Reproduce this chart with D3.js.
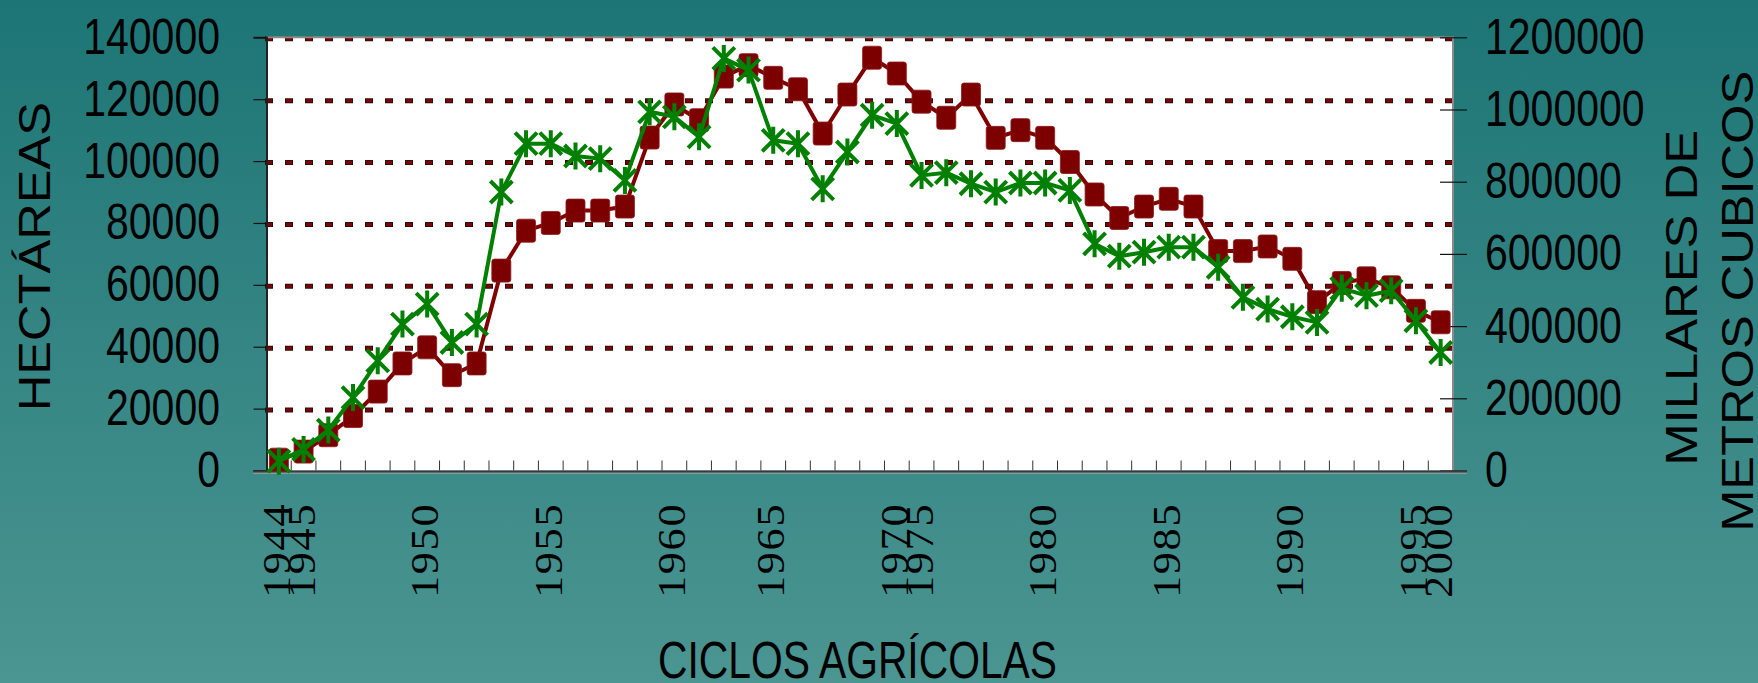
<!DOCTYPE html>
<html>
<head>
<meta charset="utf-8">
<script src="https://cdn.jsdelivr.net/npm/d3@7"></script>
<style>
  html, body { margin: 0; padding: 0; }
  body { width: 1758px; height: 683px; overflow: hidden; }
</style>
</head>
<body>
<svg id="chart" width="1758" height="683"></svg>
<script>
// Category labels (only some cycles carry a year label)
const cycleLabels = [
  "1944", "1945", "", "", "", "", "1950", "", "", "", "",
  "1955", "", "", "", "", "1960", "", "", "", "1965",
  "", "", "", "", "1970", "1975", "", "", "", "",
  "1980", "", "", "", "", "1985", "", "", "", "",
  "1990", "", "", "", "", "1995", "2000"
];

// Hectáreas (left axis, red squares)
const hectareas = [
  3500, 6100, 11400, 17600, 25500, 34600, 39800, 30800, 34600, 64600,
  77500, 80000, 84000, 84000, 85300, 107600, 118300, 113200, 127300, 131000,
  126900, 123200, 108900, 121500, 133400, 128300, 119200, 114000, 121500, 107500,
  110000, 107500, 99700, 89200, 81600, 85300, 87800, 85300, 70900, 70900,
  72400, 68400, 54400, 60600, 62100, 59200, 51600, 47900
];

// Millares de metros cubicos (right axis, green stars)
const millares = [
  25900, 58400, 112000, 202000, 303700, 405500, 461100, 354600, 405500, 771400,
  905400, 905400, 871200, 863700, 803600, 993600, 979700, 924200, 1141600, 1109100,
  914700, 905400, 780300, 882200, 984300, 961100, 817500, 825000, 794400, 771300,
  796300, 796300, 775900, 627800, 593600, 604700, 618600, 618600, 563100, 479700,
  447200, 425800, 410300, 504700, 484300, 498100, 414800, 326900
];

const leftTicks = [0, 20000, 40000, 60000, 80000, 100000, 120000, 140000];
const rightTicks = [0, 200000, 400000, 600000, 800000, 1000000, 1200000];

const plot = { left: 266.5, right: 1453, top: 37.3, bottom: 470.5 };
const sansFont = "'Liberation Sans', Arial, sans-serif";
const serifFont = "'Liberation Serif', 'Times New Roman', serif";

const svg = d3.select("#chart");

// background gradient
const defs = svg.append("defs");
const grad = defs.append("linearGradient")
  .attr("id", "bg").attr("x1", 0).attr("y1", 0).attr("x2", 0).attr("y2", 1);
grad.append("stop").attr("offset", "0%").attr("stop-color", "#1d7575");
grad.append("stop").attr("offset", "100%").attr("stop-color", "#4b9592");
svg.append("rect").attr("width", 1758).attr("height", 683).attr("fill", "url(#bg)");

// scales
const x = d3.scaleBand()
  .domain(d3.range(cycleLabels.length))
  .range([plot.left, plot.right])
  .padding(0);
const yLeft = d3.scaleLinear().domain([0, 140000]).range([plot.bottom, plot.top]);
const yRight = d3.scaleLinear().domain([0, 1200000]).range([plot.bottom, plot.top]);
const cx = i => x(i) + x.bandwidth() / 2;

// plot area
svg.append("rect")
  .attr("x", plot.left).attr("y", plot.top)
  .attr("width", plot.right - plot.left).attr("height", plot.bottom - plot.top)
  .attr("fill", "#ffffff");

// dotted grid lines
const grid = svg.append("g");
leftTicks.filter(d => d > 0).forEach(d => {
  const gy = yLeft(d) + 1.5;
  grid.append("line")
    .attr("x1", plot.left - 1.5).attr("x2", plot.right)
    .attr("y1", gy).attr("y2", gy)
    .attr("stroke", "#2a1010").attr("stroke-width", 5)
    .attr("stroke-dasharray", "8,12");
  grid.append("line")
    .attr("x1", plot.left - 0.5).attr("x2", plot.right)
    .attr("y1", gy).attr("y2", gy)
    .attr("stroke", "#800000").attr("stroke-width", 3)
    .attr("stroke-dasharray", "6,14");
});

// frame
svg.append("line").attr("x1", plot.left).attr("x2", plot.right + 1)
  .attr("y1", plot.top).attr("y2", plot.top)
  .attr("stroke", "#8a8a8a").attr("stroke-width", 2);
svg.append("line").attr("x1", plot.right).attr("x2", plot.right)
  .attr("y1", plot.top).attr("y2", plot.bottom)
  .attr("stroke", "#8a8a8a").attr("stroke-width", 2);

// x ticks (inside, at category boundaries)
const xTicks = svg.append("g");
d3.range(1, cycleLabels.length).forEach(i => {
  xTicks.append("line")
    .attr("x1", x(i)).attr("x2", x(i))
    .attr("y1", plot.bottom - 10).attr("y2", plot.bottom)
    .attr("stroke", "#333").attr("stroke-width", 1);
});

// left axis
const gLeft = svg.append("g")
  .attr("transform", `translate(${plot.left},0)`)
  .call(d3.axisLeft(yLeft).tickValues(leftTicks).tickSize(13).tickFormat(d3.format("d")));
gLeft.select(".domain").attr("stroke", "#222").attr("stroke-width", 2);
gLeft.selectAll(".tick line").attr("stroke", "#111").attr("stroke-width", 1.2);
gLeft.selectAll(".tick text")
  .attr("x", 0).attr("dy", null)
  .attr("transform", "translate(-46.5,16) scale(0.82,1)")
  .attr("text-anchor", "end")
  .attr("font-family", sansFont).attr("font-size", 50).attr("fill", "#000");

// right axis
const gRight = svg.append("g")
  .attr("transform", `translate(${plot.right - 13},0)`)
  .call(d3.axisRight(yRight).tickValues(rightTicks).tickSize(27).tickFormat(d3.format("d")));
gRight.select(".domain").remove();
gRight.selectAll(".tick line").attr("stroke", "#111").attr("stroke-width", 1.2);
gRight.selectAll(".tick text")
  .attr("x", 0).attr("dy", null)
  .attr("transform", "translate(45,16) scale(0.82,1)")
  .attr("text-anchor", "start")
  .attr("font-family", sansFont).attr("font-size", 50).attr("fill", "#000");

// bottom axis line
svg.append("line").attr("x1", 253).attr("x2", 1467)
  .attr("y1", plot.bottom + 1).attr("y2", plot.bottom + 1)
  .attr("stroke", "#3a3a3a").attr("stroke-width", 2.2);
svg.append("line").attr("x1", 253).attr("x2", 1467)
  .attr("y1", plot.bottom + 2.8).attr("y2", plot.bottom + 2.8)
  .attr("stroke", "#8a9a9a").attr("stroke-width", 1.2);

// series: hectareas
const lineL = d3.line().x((d, i) => cx(i)).y(d => yLeft(d));
svg.append("path").datum(hectareas)
  .attr("d", lineL).attr("fill", "none")
  .attr("stroke", "#800000").attr("stroke-width", 4).attr("stroke-linejoin", "round");
svg.append("g").selectAll("rect").data(hectareas).join("rect")
  .attr("x", (d, i) => cx(i) - 9.5).attr("y", d => yLeft(d) - 11.5)
  .attr("width", 19).attr("height", 23).attr("rx", 2.5)
  .attr("fill", "#7c0000").attr("stroke", "#8e1a1a").attr("stroke-width", 0.8);

// series: millares
const lineR = d3.line().x((d, i) => cx(i)).y(d => yRight(d));
svg.append("path").datum(millares)
  .attr("d", lineR).attr("fill", "none")
  .attr("stroke", "#008000").attr("stroke-width", 4).attr("stroke-linejoin", "round");
const star = "M-11,-11L11,11M-11,11L11,-11M0,-13.5L0,13.5";
svg.append("g").selectAll("path").data(millares).join("path")
  .attr("transform", (d, i) => `translate(${cx(i)},${yRight(d)})`)
  .attr("d", star).attr("fill", "none")
  .attr("stroke", "#008000").attr("stroke-width", 4);

// x labels (rotated, serif)
svg.append("g").selectAll("text")
  .data(cycleLabels.map((t, i) => ({ t, i })).filter(d => d.t !== ""))
  .join("text")
  .attr("transform", d => `translate(${cx(d.i) + 11},598) rotate(-90) scale(1.12,1)`)
  .attr("text-anchor", "start")
  .attr("font-family", serifFont).attr("font-size", 39.5)
  .attr("letter-spacing", 1.5).attr("fill", "#000")
  .text(d => d.t);

// axis titles
svg.append("text")
  .attr("transform", "translate(50,256.7) rotate(-90) scale(1.15,1)")
  .attr("text-anchor", "middle")
  .attr("font-family", sansFont).attr("font-size", 44).attr("fill", "#000")
  .text("HECTÁREAS");
svg.append("text")
  .attr("transform", "translate(1696.7,297.8) rotate(-90) scale(1.155,1)")
  .attr("text-anchor", "middle")
  .attr("font-family", sansFont).attr("font-size", 44).attr("fill", "#000")
  .text("MILLARES DE");
svg.append("text")
  .attr("transform", "translate(1753.3,301.3) rotate(-90) scale(1.15,1)")
  .attr("text-anchor", "middle")
  .attr("font-family", sansFont).attr("font-size", 44).attr("fill", "#000")
  .text("METROS CUBICOS");
svg.append("text")
  .attr("transform", "translate(857.5,678.3) scale(0.8,1)")
  .attr("text-anchor", "middle")
  .attr("font-family", sansFont).attr("font-size", 51).attr("fill", "#000")
  .text("CICLOS AGRÍCOLAS");
</script>
</body>
</html>
